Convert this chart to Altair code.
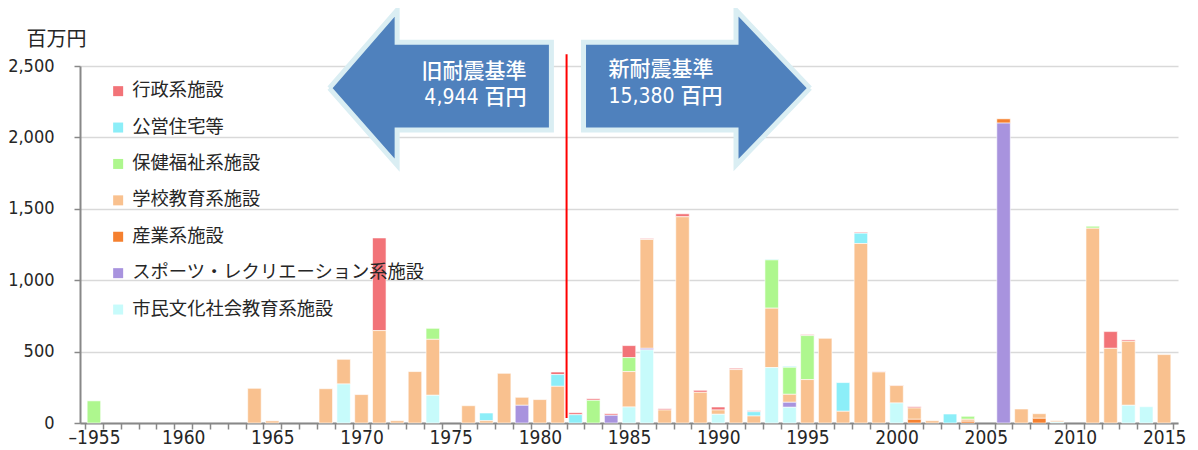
import altair as alt
import pandas as pd

FONT = "Liberation Sans Narrow, DejaVu Sans Condensed, Noto Sans CJK JP, sans-serif"
JP = "Noto Sans CJK JP"

categories = ["行政系施設", "公営住宅等", "保健福祉系施設", "学校教育系施設",
              "産業系施設", "スポーツ・レクリエーション系施設", "市民文化社会教育系施設"]
colors = ["#F27378", "#8CEEF8", "#AEF78E", "#F9C18F", "#F5802F", "#A893DE", "#C7FBFB"]
stack_rank = [6, 5, 4, 3, 2, 1, 0]

admin = {1971: 649, 1981: 18, 1982: 14, 1983: 11, 1984: 11, 1985: 84, 1986: 7,
         1987: 9, 1988: 21, 1989: 14, 1990: 21, 1991: 9, 1992: 7, 1995: 7,
         1998: 7, 1999: 3, 2000: 4, 2001: 9, 2012: 117, 2013: 10}
housing = {1977: 54, 1981: 82, 1982: 58, 1992: 30, 1993: 5, 1994: 7,
           1997: 201, 1998: 72, 2003: 63}
welfare = {1955: 155, 1974: 77, 1983: 159, 1985: 98, 1993: 338, 1994: 189,
           1995: 308, 2004: 21, 2011: 14}
school = {1964: 243, 1965: 15, 1968: 240, 1969: 173, 1970: 199, 1971: 647,
          1972: 16, 1973: 360, 1974: 392, 1976: 121, 1977: 16, 1978: 348,
          1979: 56, 1980: 164, 1981: 257, 1985: 248, 1986: 762, 1987: 91,
          1988: 1444, 1989: 215, 1990: 30, 1991: 374, 1992: 49, 1993: 416,
          1994: 56, 1995: 304, 1996: 593, 1997: 82, 1998: 1257, 1999: 357,
          2000: 122, 2001: 79, 2002: 16, 2004: 14, 2007: 98, 2008: 32,
          2009: 9, 2011: 1364, 2012: 523, 2013: 448, 2015: 479}
industry = {2001: 26, 2004: 12, 2006: 30, 2008: 33}
sports = {1979: 124, 1984: 54, 1986: 11, 1994: 35, 2006: 2100}
culture = {1969: 273, 1974: 194, 1985: 112, 1986: 512, 1990: 61, 1993: 388,
           1994: 110, 2000: 140, 2009: 7, 2013: 124, 2014: 114}
series = [admin, housing, welfare, school, industry, sports, culture]

first_year, last_year = 1955, 2015
boundaries = [first_year - 0.5 + i for i in range(last_year - first_year + 2)]
y_ticks = [0, 500, 1000, 1500, 2000, 2500]

# annotation arrows (in data units: year, 百万円)
arrow_name = ["old"] * 8 + ["new"] * 8
arrow_x = [1968.2, 1972.0, 1972.0, 1980.65, 1980.65, 1972.0, 1972.0, 1968.2,
           1995.15, 1991.0, 1991.0, 1982.45, 1982.45, 1991.0, 1991.0, 1995.15]
arrow_y = [2345, 2891, 2667, 2667, 2051, 2051, 1806, 2345,
           2345, 2891, 2667, 2667, 2051, 2051, 1806, 2345]
label_text = ["旧耐震基準", "4,944 百円", "新耐震基準", "15,380 百円"]
label_x = [1979.25, 1979.25, 1983.85, 1983.85]
label_y = [2457, 2275, 2471, 2282]
label_align = ["right", "right", "left", "left"]
divider_year = 1981.5
divider_top, divider_bottom = 2583, 35

rows = []
for cat, rank, s in zip(categories, stack_rank, series):
    for yr, v in s.items():
        rows.append({"year": yr, "category": cat, "value": v, "rank": rank})
df = pd.DataFrame(rows)

xscale = alt.Scale(domain=[first_year - 0.5, last_year + 0.5], nice=False, zero=False)
yscale = alt.Scale(domain=[0, 2500], nice=False)

label_expr = ("(datum.value + 0.5) % 5 == 0 ? ((datum.value + 0.5) == 1955 ? '–1955' : "
              "format(datum.value + 0.5, 'd')) : ''")

xaxis = alt.Axis(values=boundaries, labelExpr=label_expr, labelOffset=9,
                 labelFlush=False, labelOverlap=False, grid=False,
                 tickSize=6, labelPadding=-1, labelFontSize=19,
                 labelFont=FONT, labelColor="#262626",
                 domainColor="#888888", domainWidth=2,
                 tickColor="#888888", tickWidth=1.5, title=None)
yaxis = alt.Axis(values=y_ticks, labelExpr="format(datum.value, ',')",
                 tickSize=6, labelPadding=20, labelFontSize=18,
                 labelFont=FONT, labelColor="#262626",
                 domainColor="#888888", domainWidth=2,
                 tickColor="#888888", tickWidth=1.5,
                 gridColor="#D9D9D9", gridWidth=1.5,
                 title="百万円", titleAngle=0, titleX=-24, titleY=-27,
                 titleAlign="center", titleBaseline="middle",
                 titleFontSize=20, titleFontWeight="normal",
                 titleFont=JP, titleColor="#262626")


def X(field):
    return alt.X(field, scale=xscale, axis=xaxis)


def Y(field, **kw):
    return alt.Y(field, scale=yscale, axis=yaxis, **kw)


bars = alt.Chart(df).mark_bar(size=13.5, stroke="white", strokeWidth=0.6).encode(
    x=X("year:Q"),
    y=Y("value:Q", stack="zero"),
    color=alt.Color("category:N", scale=alt.Scale(domain=categories, range=colors),
                    legend=alt.Legend(title=None, orient="none", legendX=29, legendY=16,
                                      symbolType="square", symbolSize=100,
                                      symbolStrokeWidth=0, labelFontSize=18.3,
                                      labelFont=JP, labelColor="#262626",
                                      rowPadding=17.4, labelOffset=5, labelLimit=500)),
    order=alt.Order("rank:Q"),
)

arrows_df = pd.DataFrame({"arrow": arrow_name, "x": arrow_x, "y": arrow_y,
                          "i": list(range(len(arrow_x)))})
arrows = alt.Chart(arrows_df).mark_line(
    fill="#4F81BD", stroke="#DAEEF3", strokeWidth=5, strokeJoin="miter", clip=False
).encode(
    x=X("x:Q"),
    y=Y("y:Q"),
    detail="arrow:N",
    order="i:Q",
)

labels_df = pd.DataFrame({"t": label_text, "x": label_x, "y": label_y, "a": label_align})
left_text = alt.Chart(labels_df[labels_df.a == "right"]).mark_text(
    align="right", baseline="middle", fontSize=21, color="white", font=FONT,
    fontWeight=500
).encode(x=X("x:Q"), y=Y("y:Q"), text="t:N")
right_text = alt.Chart(labels_df[labels_df.a == "left"]).mark_text(
    align="left", baseline="middle", fontSize=21, color="white", font=FONT,
    fontWeight=500
).encode(x=X("x:Q"), y=Y("y:Q"), text="t:N")

rule_df = pd.DataFrame({"x": [divider_year], "y1": [divider_top], "y2": [divider_bottom]})
rule = alt.Chart(rule_df).mark_rule(color="#FF0000", strokeWidth=2, clip=False).encode(
    x=X("x:Q"),
    y=Y("y1:Q"),
    y2="y2:Q",
)

chart = alt.layer(bars, rule, arrows, left_text, right_text).properties(
    width=1098, height=357, autosize="none",
    padding={"left": 72, "top": 58, "right": 12, "bottom": 27},
).configure_view(stroke=None)

chart.save("out.html", embed_options={"renderer": "svg", "actions": False})
